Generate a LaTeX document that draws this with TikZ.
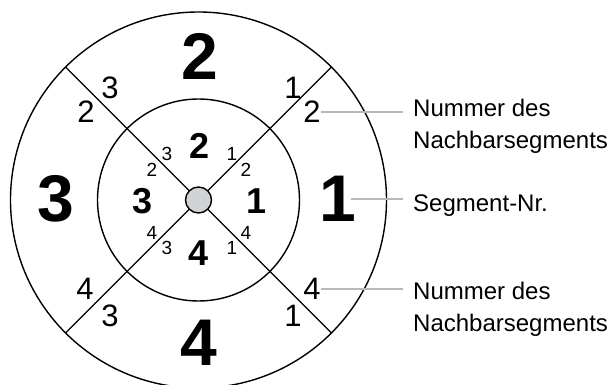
\documentclass[tikz,border=0pt]{standalone}
\usepackage{fontspec}
\setmainfont{Liberation Sans}
\usetikzlibrary{positioning}
\definecolor{hubgray}{RGB}{210,211,213}
\definecolor{leadgray}{RGB}{185,185,185}

\begin{document}
\begin{tikzpicture}[
  x=1pt,y=1pt,
  ring/.style={draw,line width=1.4pt},
  hubdot/.style={draw,circle,line width=1.4pt,fill=hubgray,minimum size=26pt,inner sep=0pt},
  bignum/.style={font=\fontsize{66}{66}\selectfont\bfseries,inner sep=0pt},
  midnum/.style={font=\fontsize{36}{36}\selectfont\bfseries,inner sep=0pt},
  nbout/.style={font=\fontsize{31}{31}\selectfont,inner sep=0pt},
  nbin/.style={font=\fontsize{19}{19}\selectfont,inner sep=0pt},
  note/.style={font=\fontsize{24}{32}\selectfont,inner sep=0pt,anchor=base west},
  leader/.style={draw=leadgray,line width=1.5pt,shorten >=10pt}
]
\useasboundingbox (-198.5,-185) rectangle (411.5,200);

% rings and cross
\draw[ring] (0,0) circle (188);
\draw[ring] (0,0) circle (101);
\draw[ring] (45:188) -- (225:188);
\draw[ring] (135:188) -- (315:188);
\node[hubdot] (hub) at (0,0) {};

% segment numbers, outer ring
\node[bignum] (seg1) at (139.5,1) {1};
\node[bignum] (seg2) at (1,144) {2};
\node[bignum] (seg3) at (-142.5,1) {3};
\node[bignum] (seg4) at (0.5,-143) {4};

% segment numbers, inner ring
\node[midnum] (iseg1) at (58,-1) {1};
\node[midnum] (iseg2) at (1,54) {2};
\node[midnum] (iseg3) at (-55.5,-1) {3};
\node[midnum] (iseg4) at (0.5,-53) {4};

% neighbour numbers, outer ring
\node[nbout] (nbNE1) at (94.5,112) {1};
\node[nbout] (nbNE2) at (113.5,88) {2};
\node[nbout] (nbNW3) at (-88.5,112) {3};
\node[nbout] (nbNW2) at (-112.5,88) {2};
\node[nbout] (nbSW4) at (-113.5,-89) {4};
\node[nbout] (nbSW3) at (-88.5,-116) {3};
\node[nbout] (nbSE4) at (113.5,-89) {4};
\node[nbout] (nbSE1) at (94.5,-116) {1};

% neighbour numbers, inner ring
\node[nbin] (inNE1) at (33.5,46) {1};
\node[nbin] (inNE2) at (47.5,30) {2};
\node[nbin] (inNW3) at (-31.5,46) {3};
\node[nbin] (inNW2) at (-46.5,30) {2};
\node[nbin] (inSW4) at (-46.5,-33) {4};
\node[nbin] (inSW3) at (-31.5,-48) {3};
\node[nbin] (inSE4) at (47.5,-33) {4};
\node[nbin] (inSE1) at (33.5,-48) {1};

% notes
\node[note] (topnote) at (214.5,83.3) {Nummer des};
\node[note] (topnote2) at (214.5,51.3) {Nachbarsegments};
\node[note] (segnote) at (214.5,-11.7) {Segment-Nr.};
\node[note] (lownote) at (214.5,-99.3) {Nummer des};
\node[note] (lownote2) at (214.5,-131.3) {Nachbarsegments};

\draw[leader] (nbNE2.east) -- (nbNE2.east -| topnote.west);
\draw[leader,shorten <=-6pt] (seg1.east) -- (seg1.east -| segnote.west);
\draw[leader] (nbSE4.east) -- (nbSE4.east -| lownote.west);
\end{tikzpicture}
\end{document}
